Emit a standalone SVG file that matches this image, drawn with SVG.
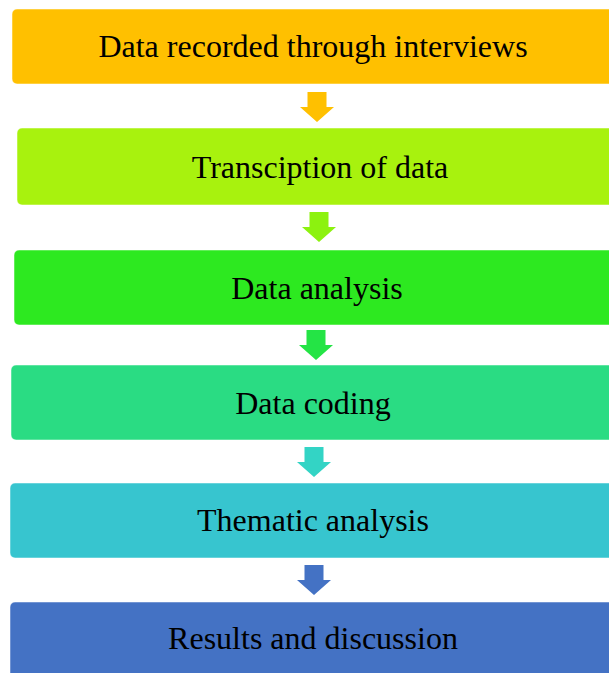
<svg xmlns="http://www.w3.org/2000/svg" width="609" height="673" viewBox="0 0 609 673">
  <style>
    .box { stroke: #ffffff; stroke-opacity: 0.5; stroke-width: 1; }
    .label { font-family: "Liberation Serif", "Times New Roman", serif; font-size: 32px; fill: #000000; text-anchor: middle; }
  </style>
  <defs>
    <!-- block arrow pointing down, centred on x=0, top at y=0 -->
    <path id="down" d="M -9.5 0 H 9.5 V 15 H 17 L 0 30 L -17 15 H -9.5 Z"/>
  </defs>
  <rect width="609" height="673" fill="#ffffff"/>

  <g id="connectors">
    <use href="#down" x="317" y="92" fill="#FFC000"/>
    <use href="#down" x="319" y="212" fill="#8CF20F"/>
    <use href="#down" x="316" y="330" fill="#24E445"/>
    <use href="#down" x="314" y="447" fill="#33D4C5"/>
    <use href="#down" x="314" y="565" fill="#4472C4"/>
  </g>

  <g id="n1">
    <rect class="box" x="12" y="9" width="605" height="75" rx="5" fill="#FFC000"/>
    <text class="label" x="313" y="57">Data recorded through interviews</text>
  </g>
  <g id="n2">
    <rect class="box" x="17" y="128" width="600" height="77" rx="5" fill="#A8F20E"/>
    <text class="label" x="320" y="178">Transciption of data</text>
  </g>
  <g id="n3">
    <rect class="box" x="14" y="250" width="603" height="75" rx="5" fill="#2DE920"/>
    <text class="label" x="317" y="299">Data analysis</text>
  </g>
  <g id="n4">
    <rect class="box" x="11" y="365" width="606" height="75" rx="5" fill="#2ADC83"/>
    <text class="label" x="313" y="414">Data coding</text>
  </g>
  <g id="n5">
    <rect class="box" x="10" y="483" width="607" height="75" rx="5" fill="#37C5CF"/>
    <text class="label" x="313" y="531">Thematic analysis</text>
  </g>
  <g id="n6">
    <rect class="box" x="10" y="602" width="607" height="80" rx="5" fill="#4472C4"/>
    <text class="label" x="313" y="649">Results and discussion</text>
  </g>
</svg>
